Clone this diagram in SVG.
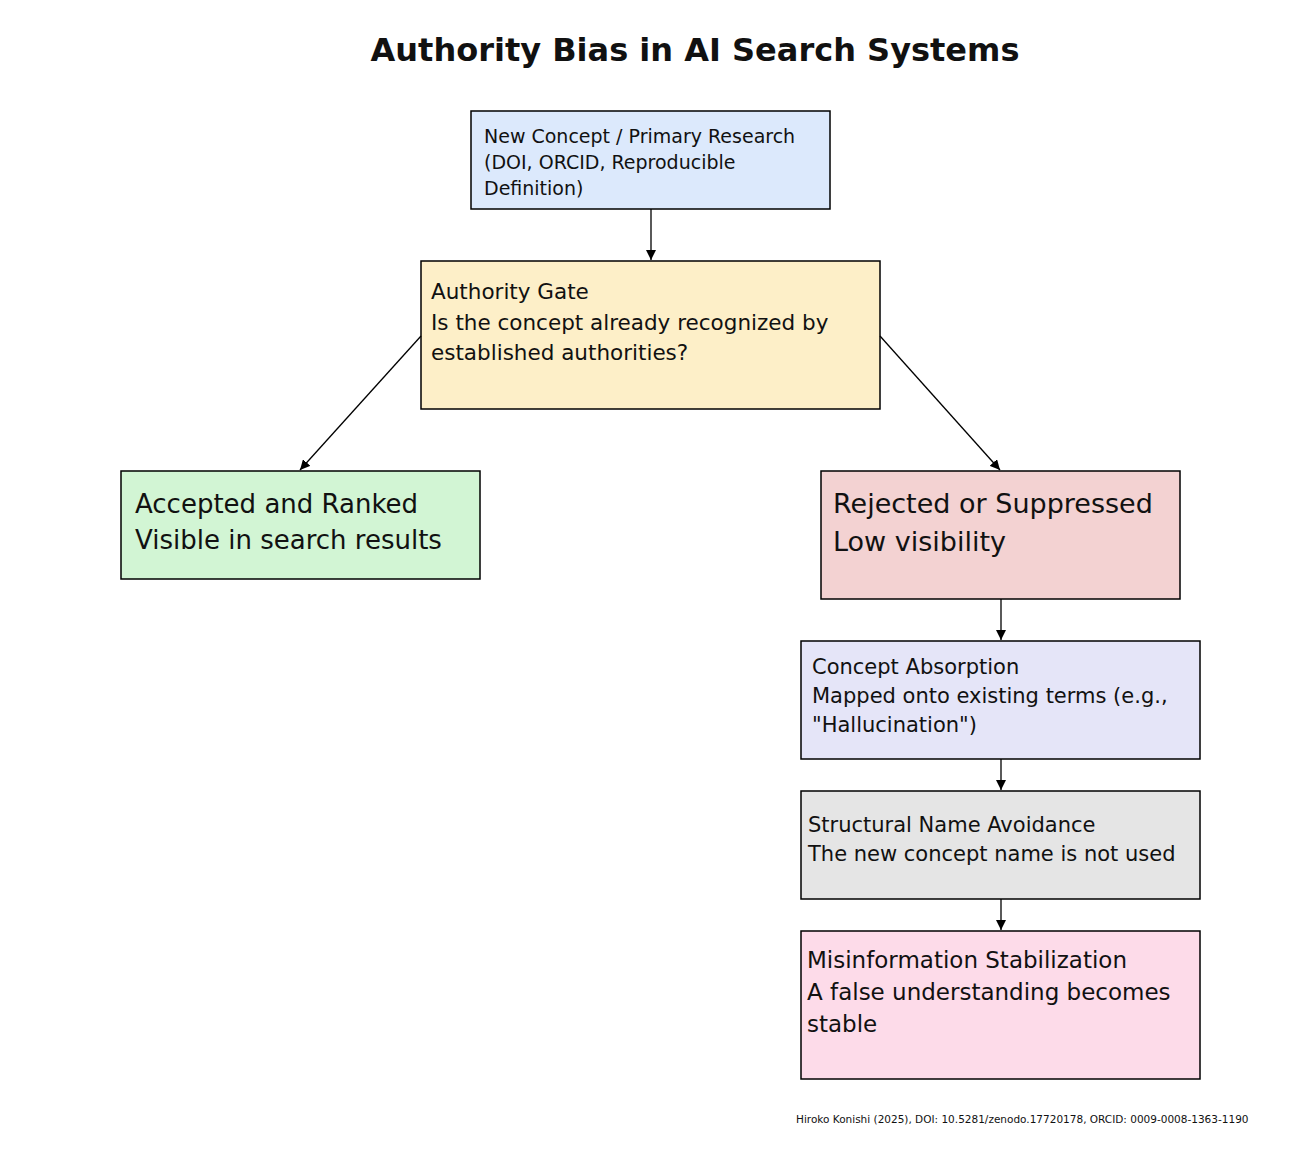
<svg xmlns="http://www.w3.org/2000/svg" width="1300" height="1150" viewBox="0 0 1300 1150">
<style>
text{font-family:"DejaVu Sans",sans-serif;fill:#111}
.b{stroke:#000;stroke-width:1.5}
.c{stroke:#000;stroke-width:1.3;fill:none;marker-end:url(#a)}
</style>
<defs><marker id="a" viewBox="0 0 10 10" refX="10" refY="5" markerWidth="10" markerHeight="10" markerUnits="userSpaceOnUse" orient="auto"><path d="M0,0L10,5L0,10z" fill="#000"/></marker></defs>
<rect width="1300" height="1150" fill="#fff"/>
<text x="695" y="61" text-anchor="middle" font-size="32" font-weight="bold" fill="#222">Authority Bias in AI Search Systems</text>
<g id="n1"><rect class="b" x="471" y="111" width="359" height="98" fill="#dce9fc"/>
<text font-size="19"><tspan x="484" y="143">New Concept / Primary Research</tspan><tspan x="484" y="169">(DOI, ORCID, Reproducible</tspan><tspan x="484" y="195">Definition)</tspan></text></g>
<g id="n2"><rect class="b" x="421" y="261" width="459" height="148" fill="#fdefc8"/>
<text font-size="21.5"><tspan x="431" y="299">Authority Gate</tspan><tspan x="431" y="330">Is the concept already recognized by</tspan><tspan x="431" y="360">established authorities?</tspan></text></g>
<g id="n3"><rect class="b" x="121" y="471" width="359" height="108" fill="#d2f5d4"/>
<text font-size="26"><tspan x="135" y="513">Accepted and Ranked</tspan><tspan x="135" y="549">Visible in search results</tspan></text></g>
<g id="n4"><rect class="b" x="821" y="471" width="359" height="128" fill="#f3d2d2"/>
<text font-size="27"><tspan x="833" y="513">Rejected or Suppressed</tspan><tspan x="833" y="551">Low visibility</tspan></text></g>
<g id="n5"><rect class="b" x="801" y="641" width="399" height="118" fill="#e5e5f8"/>
<text font-size="21"><tspan x="812" y="674">Concept Absorption</tspan><tspan x="812" y="703">Mapped onto existing terms (e.g.,</tspan><tspan x="812" y="732">"Hallucination")</tspan></text></g>
<g id="n6"><rect class="b" x="801" y="791" width="399" height="108" fill="#e5e5e5"/>
<text font-size="21"><tspan x="808" y="832">Structural Name Avoidance</tspan><tspan x="808" y="861">The new concept name is not used</tspan></text></g>
<g id="n7"><rect class="b" x="801" y="931" width="399" height="148" fill="#fddbe9"/>
<text font-size="23"><tspan x="807" y="968">Misinformation Stabilization</tspan><tspan x="807" y="1000">A false understanding becomes</tspan><tspan x="807" y="1032">stable</tspan></text></g>
<g id="connectors">
<path class="c" d="M651,209V260"/>
<path class="c" d="M421,336L300,470"/>
<path class="c" d="M880,336L1000,470"/>
<path class="c" d="M1001,599V640"/>
<path class="c" d="M1001,759V790"/>
<path class="c" d="M1001,899V930"/>
</g>
<text x="796" y="1123" font-size="10.5" fill="#333">Hiroko Konishi (2025), DOI: 10.5281/zenodo.17720178, ORCID: 0009-0008-1363-1190</text>
</svg>
